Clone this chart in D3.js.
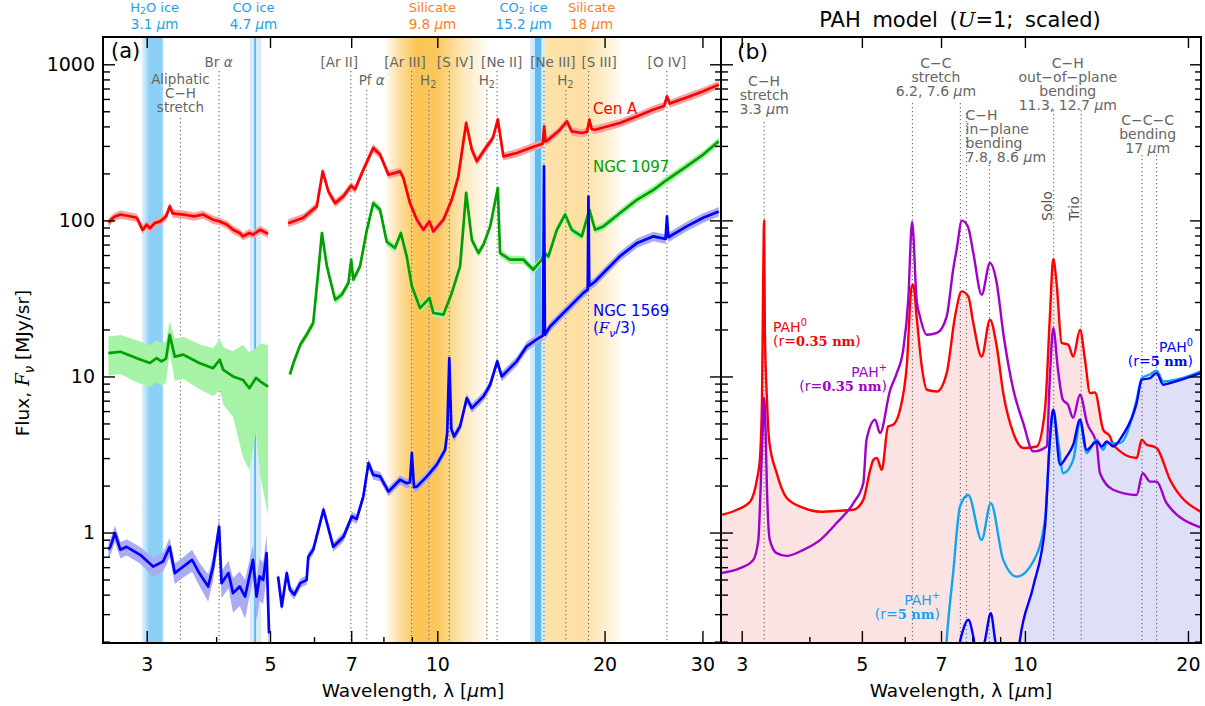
<!DOCTYPE html>
<html>
<head>
<meta charset="utf-8">
<script src="https://cdn.jsdelivr.net/npm/d3@7/dist/d3.min.js"></script>
<style>
  body { margin: 0; background: #fff; }
  svg { display: block; }
  text { font-family: "DejaVu Sans", sans-serif; }
</style>
</head>
<body>
<svg id="fig" width="1205" height="706"></svg>
<script>
// ---------------- panel (a): observed spectra ----------------
// Cen A, AKARI part and Spitzer part (MJy/sr)
const cenA1W = [2.56,2.62,2.69,2.77,2.88,2.95,3.0,3.04,3.1,3.17,3.25,3.3,3.34,3.49,3.65,3.79,3.95,4.06,4.18,4.29,4.41,4.47,4.59,4.66,4.8,4.96];
const cenA1F = [97,105,109,107,104,87,94,89,96,98.5,106,123,111,109,106,109,101,98.5,94,87,83,79,83,81,87,82];
const cenA2W = [5.39,5.74,6.07,6.22,6.37,6.55,6.78,7.0,7.11,7.36,7.67,7.89,8.17,8.57,8.69,8.93,9.19,9.44,9.68,9.84,10.26,10.62,10.91,11.27,11.54,11.78,12.28,12.59,12.85,13.15,13.9,14.69,15.32,15.48,15.57,15.66,15.85,16.52,17.11,17.46,18.2,18.6,18.78,18.95,19.23,21.3,22.9,24.5,25.6,25.9,26.2,28.5,30.1,32.1];
const cenA2F = [96,104,123,206,153,129,143,167,158,211,291,264,196,206,187,129,101,87,98.5,85,101,136,191,421,284,239,298,337,443,257,270,291,306,310,401,320,329,372,431,372,363,370,443,385,381,421,464,513,540,624,560,624,671,741];
const cenAErr = 0.06;

// NGC 1097
const n1097W1 = [2.56,2.69,2.88,3.04,3.125,3.19,3.25,3.30,3.37,3.49,3.73,3.95,4.06,4.12,4.29,4.47,4.59,4.72,4.8,4.96];
const n1097F1 = [14.1,14.4,13.1,12.2,13.1,12.5,13.0,18.5,13.4,13.8,12.2,11.3,12.8,11.0,10,9.5,8.4,9.8,9.3,8.6];
const n1097E1 = [0.28,0.28,0.3,0.3,0.3,0.3,0.3,0.22,0.3,0.3,0.32,0.34,0.36,0.4,0.45,0.68,0.7,0.55,0.75,0.85];
const n1097W2 = [5.43,5.51,5.67,5.82,5.98,6.1,6.2,6.33,6.55,6.73,6.92,7.0,7.06,7.26,7.47,7.67,7.89,8.11,8.39,8.6,8.81,9.0,9.31,9.68,9.84,10.26,10.62,10.99,11.27,11.54,11.86,12.11,12.45,12.85,12.97,13.52,14.29,14.89,15.42,15.57,15.85,16.41,16.98,17.46,18.2,18.78,19.23,19.9,21.3,22.9,24.5,25.9,28.1,30.1,32.1];
const n1097F2 = [10.3,12.2,16,18.5,22,45,83,50.7,31,33.4,39.7,56,41.7,50.7,87,129,117,73,66.5,83,58.8,37.8,27.4,31.8,25.5,24.9,34.3,50.7,150,75,61.8,69.9,91.5,161,61.8,56,56,48.3,56,61.8,58.8,87,109,87,79,117,87,91.5,111,136,157,182,222,264,321];
const n1097Err2 = 0.06;

// NGC 1569 (F_nu / 3)
const n1569W1 = [2.56,2.58,2.63,2.69,2.76,2.92,3.08,3.21,3.30,3.37,3.49,3.62,3.73,3.87,3.95,4.05,4.09,4.21,4.29,4.41,4.51,4.66,4.73,4.79,4.86,4.93,4.98];
const n1569F1 = [0.775,0.81,0.99,0.775,0.81,0.72,0.605,0.652,0.81,0.55,0.605,0.668,0.55,0.451,0.605,1.09,0.474,0.55,0.409,0.451,0.389,0.668,0.389,0.523,0.497,0.738,0.226];
const n1569E1 = [0.12,0.12,0.12,0.12,0.12,0.12,0.14,0.14,0.14,0.15,0.15,0.16,0.17,0.2,0.18,0.15,0.2,0.2,0.25,0.25,0.28,0.25,0.3,0.3,0.3,0.3,0.35];
const n1569W2 = [5.17,5.25,5.36,5.43,5.53,5.67,5.82,5.86,5.98,6.24,6.5,6.78,7.02,7.16,7.36,7.52,7.67,7.89,8.17,8.57,8.81,8.93,9.0,9.08,9.19,9.58,9.98,10.33,10.42,10.51,10.6,10.72,10.99,11.3,11.54,12.11,12.45,12.82,13.06,13.9,14.49,15.21,15.5,15.56,15.62,15.96,16.86,18.32,18.65,18.71,18.77,19.23,19.9,21.3,22.9,24.5,25.75,25.9,26.05,28.1,30.1,32.1];
const n1569F2 = [0.523,0.336,0.55,0.43,0.40,0.474,0.497,0.70,0.775,1.40,0.81,0.94,1.27,1.22,1.70,2.79,2.34,2.29,1.83,2.18,2.07,2.1,3.23,1.95,1.97,2.29,2.72,3.39,4.34,13.1,4.6,4.12,4.78,7.27,6.27,7.45,8.85,12.5,10,12.5,15.6,17.6,18.3,222,18.5,20.9,25.5,34.3,36,142,38,40.6,46,58.8,71.7,79,76,106,78,91.5,104,114];
const n1569Err2 = 0.07;

const galaxyNames = ['Cen A', 'NGC 1097', 'NGC 1569\n(~F_ν/3)'];

// absorption features (µm)
const featName = ['H_2O ice', 'CO ice', 'Silicate', 'CO_2 ice', 'Silicate'];
const featWave = [3.1, 4.7, 9.8, 15.2, 18];
const featLo = [2.94, 4.6, 8.06, 14.69, 15.6];
const featHi = [3.21, 4.82, 12.45, 15.6, 21.7];
const featLabelAt = [3.1, 4.67, 9.8, 14.3, 18.95];

// emission lines (µm)
const lineWave = [3.45, 4.05, 6.99, 7.46, 8.99, 9.66, 10.51, 12.28, 12.81, 15.56, 17.03, 18.71, 25.89];
const lineName = ['Aliphatic\nC−H\nstretch', 'Br α', '[Ar II]', 'Pf α', '[Ar III]', 'H_2', '[S IV]', 'H_2', '[Ne II]', '[Ne III]', 'H_2', '[S III]', '[O IV]'];
const lineLabelAt = [3.45, 4.04, 6.66, 7.62, 8.75, 9.63, 10.77, 12.28, 13.06, 16.14, 17.0, 19.55, 25.9];
const lineTier = [2, 0, 0, 1, 0, 1, 0, 1, 0, 0, 1, 0, 0];

// ---------------- panel (b): PAH model ----------------
const pah0sW = [2.76,2.94,3.11,3.20,3.24,3.27,3.28,3.30,3.31,3.34,3.37,3.48,3.63,3.90,4.19,4.56,4.82,5.03,5.18,5.25,5.33,5.44,5.59,5.71,5.88,6.05,6.18,6.22,6.31,6.45,6.59,6.88,7.17,7.43,7.64,7.86,8.03,8.32,8.62,8.87,9.12,9.52,9.93,10.51,10.89,11.12,11.28,11.44,11.69,12.02,12.28,12.64,12.91,13.19,13.47,13.95,14.36,14.55,16.08,16.43,16.78,17.26,17.51,18.53,21.1];
const pah0sV = [1.30,1.40,1.58,2.18,2.92,7.09,19.9,99.6,19.9,7.09,3.93,2.41,1.67,1.44,1.36,1.38,1.40,1.62,2.52,2.92,3.01,2.52,4.78,4.90,6.12,11.6,37.8,38.7,24.2,11.6,8.22,8.01,10.5,24.2,35.1,32.6,22.0,13.4,23.1,15.6,7.83,4.34,3.48,3.56,6.12,24.2,56.6,39.7,16.4,16.0,13.4,19.9,12.8,7.83,7.90,4.55,4.12,3.65,3.00,3.93,3.65,3.56,3.48,2.18,1.36];
const pahPsW = [2.74,2.98,3.15,3.22,3.25,3.28,3.30,3.32,3.34,3.38,3.48,3.63,3.90,4.19,4.49,4.82,5.03,5.10,5.29,5.40,5.64,5.80,5.96,6.09,6.19,6.31,6.40,6.59,6.88,7.17,7.37,7.48,7.65,7.85,8.03,8.32,8.62,8.87,9.12,9.52,9.93,10.36,10.97,11.12,11.28,11.51,11.75,12.01,12.27,12.64,13.02,13.57,13.76,14.55,16.08,16.50,17.02,17.51,18.27,21.1];
const pahPsV = [0.549,0.591,0.668,0.898,1.88,4.55,7.30,4.55,1.88,0.898,0.738,0.709,0.775,0.898,1.15,1.54,2.07,3.93,5.28,4.34,8.22,10.5,14.8,31.0,98.1,31.0,24.2,18.5,19.0,24.2,48.3,64.9,99.6,91.1,61.8,33.4,53.3,39.7,19.0,8.22,5.03,3.31,3.56,10,20.4,11.0,7.09,6.59,5.44,7.63,5.05,3.65,2.40,1.88,1.74,2.40,2.12,2.12,1.54,1.08];
const pahPlW = [7.0,7.17,7.37,7.59,7.86,8.32,8.65,9.12,9.66,10.36,10.89,11.12,11.28,11.51,11.77,12.28,12.64,13.0,13.57,13.95,14.16,14.98,16.08,16.43,17.02,17.51,18.0,21.1];
const pahPlV = [0.05,0.205,0.549,1.47,1.74,0.898,1.54,0.668,0.522,0.652,1.21,3.93,6.12,3.93,2.40,2.92,5.03,3.23,3.93,3.39,3.74,3.74,7.09,9.77,10.3,10.9,9.29,10.8];
const pah0lW = [7.3,7.49,7.69,7.86,8.03,8.19,8.44,8.65,8.81,9.0,9.4,9.79,10.36,10.89,11.12,11.28,11.61,11.94,12.28,12.64,13.0,13.57,13.86,14.16,14.55,15.17,16.08,16.43,17.02,17.51,18.0,18.53,21.1];
const pah0lV = [0.05,0.152,0.238,0.276,0.215,0.142,0.205,0.304,0.205,0.142,0.05,0.205,0.451,1.09,3.93,6.12,2.72,3.07,3.65,5.28,3.39,3.83,3.56,3.83,3.56,4.23,6.75,9.52,9.77,10.5,8.85,9.07,10.5];

const pahName = ['PAH^0', 'PAH^+', 'PAH^0', 'PAH^+'];
const pahSize = ['0.35 nm', '0.35 nm', '5 nm', '5 nm'];

const modeWave = [3.3, 6.2, 7.6, 7.8, 8.6, 11.3, 12.7, 16.45, 17.5];
const modeName = ['C−H\nstretch\n3.3 µm', 'C−C\nstretch\n6.2, 7.6 µm', 'C−H\nin−plane\nbending\n7.8, 8.6 µm', 'C−H\nout−of−plane\nbending\n11.3, 12.7 µm', 'C−C−C\nbending\n17 µm'];
const modeLabelAt = [3.3, 6.85, 7.77, 12.0, 16.85];
const ohName = ['Solo', 'Trio'];
const ohWave = [11.3, 12.7];

// ---------------- layout ----------------
const svg = d3.select('#fig');
const defs = svg.append('defs');
const A = {l: 103, r: 721, t: 37, b: 643};
const B = {l: 721, r: 1201, t: 37, b: 643};
const xA = d3.scaleLog().domain([2.503, 32.4]).range([A.l, A.r]);
const xB = d3.scaleLog().domain([2.747, 21.14]).range([B.l, B.r]);
const y = d3.scaleLog().domain([0.196, 1496]).range([A.b, A.t]);
const grey = '#666';

[['clipA', A], ['clipB', B]].forEach(([id, bx]) => {
  defs.append('clipPath').attr('id', id).append('rect')
    .attr('x', bx.l).attr('y', bx.t).attr('width', bx.r - bx.l).attr('height', bx.b - bx.t);
});

// text with _sub, ^sup, ~italic-serif and italic greek
function rich(sel, str, subShift) {
  const fs = parseFloat(sel.attr('font-size'));
  const sub = subShift === undefined ? 0.25 : subShift;
  let shift = 0;
  str.match(/_.|\^.|~.|[µνα]|[^_^~µνα]+/g).forEach(tok => {
    const sp = sel.append('tspan');
    let t = tok, dy;
    if (tok[0] === '_') {
      t = tok[1]; dy = fs * sub - shift; shift = fs * sub; sp.attr('font-size', fs * 0.72);
    } else if (tok[0] === '^') {
      t = tok[1]; dy = -fs * 0.42 - shift; shift = -fs * 0.42; sp.attr('font-size', fs * 0.7);
    } else {
      dy = -shift; shift = 0;
      if (tok[0] === '~') { t = tok[1]; sp.attr('font-family', 'DejaVu Serif').attr('font-style', 'italic'); }
    }
    if ('µνα'.includes(t)) sp.attr('font-style', 'italic');
    sp.attr('dy', dy).text(t);
  });
}
function label(g, x, y0, str, fs, fill, anchor, lh, subShift) {
  str.split('\n').forEach((ln, i) => {
    const t = g.append('text').attr('x', x).attr('y', y0 + i * (lh || 14))
      .attr('font-size', fs).attr('fill', fill).attr('text-anchor', anchor || 'middle');
    rich(t, ln, subShift);
  });
}

// ================= panel (a) =================
const gA = svg.append('g').attr('clip-path', 'url(#clipA)');

// absorption bands as horizontal gradients
const featStyle = [
  {c: '#86cdf5', s: [[0, 0.25], [0.2, 0.6], [0.35, 0.95], [0.88, 0.95], [1, 0.75]]},
  {c: '#d6ecfb', s: [[0, 1], [1, 1]]},
  {c: '#fbc555', s: [[0, 0.05], [0.12, 0.5], [0.3, 1], [0.5, 0.95], [0.75, 0.4], [1, 0]]},
  {c: '#5fb9f1', s: [[0, 0.25], [0.3, 0.3], [0.36, 1], [0.74, 1], [0.8, 0.3], [1, 0.25]]},
  {c: '#fbc555', s: [[0, 0.5], [0.45, 0.55], [0.75, 0.3], [1, 0]]}
];
const drawOrder = [2, 4, 0, 1, 3];
drawOrder.forEach(i => {
  const x0 = xA(featLo[i]), x1 = xA(featHi[i]);
  const gr = defs.append('linearGradient').attr('id', 'feat' + i)
    .attr('gradientUnits', 'userSpaceOnUse').attr('x1', x0).attr('x2', x1).attr('y1', 0).attr('y2', 0);
  featStyle[i].s.forEach(([o, a]) => gr.append('stop').attr('offset', o)
    .attr('stop-color', featStyle[i].c).attr('stop-opacity', a));
  gA.append('rect').attr('x', x0).attr('y', A.t).attr('width', x1 - x0).attr('height', A.b - A.t)
    .attr('fill', `url(#feat${i})`);
});
gA.append('line').attr('x1', xA(featWave[1])).attr('x2', xA(featWave[1]))
  .attr('y1', A.t).attr('y2', A.b).attr('stroke', '#3aa6ef').attr('stroke-width', 1.4);

// emission line markers
const tierBase = [67, 85, 84];
const tierTop = [71, 90, 118];
lineWave.forEach((w, i) => {
  svg.append('line').attr('x1', xA(w)).attr('x2', xA(w)).attr('y1', tierTop[lineTier[i]]).attr('y2', A.b)
    .attr('stroke', '#707070').attr('stroke-width', 1.2).attr('stroke-dasharray', '1.2,2.8');
  label(svg, xA(lineLabelAt[i]), tierBase[lineTier[i]], lineName[i], 13.5, grey, 'middle', 14);
});

function drawSpec(g, w, f, err, col, bandCol) {
  const pts = w.map((d, i) => [d, f[i], Array.isArray(err) ? err[i] : err]);
  g.append('path').attr('fill', bandCol)
    .attr('d', d3.area().x(d => xA(d[0]))
      .y0(d => y(Math.max(d[1] * (1 - d[2]), 0.01))).y1(d => y(d[1] * (1 + d[2])))(pts));
  g.append('path').attr('fill', 'none').attr('stroke', col).attr('stroke-width', 2.7)
    .attr('stroke-linejoin', 'round')
    .attr('d', d3.line().x(d => xA(d[0])).y(d => y(d[1]))(pts));
}
const gS = svg.append('g').attr('clip-path', 'url(#clipA)');
drawSpec(gS, cenA1W, cenA1F, cenAErr, '#ff0000', '#f6a3a3');
drawSpec(gS, cenA2W, cenA2F, cenAErr, '#ff0000', '#f6a3a3');
drawSpec(gS, n1097W1, n1097F1, n1097E1, '#00a000', '#a6f2a6');
drawSpec(gS, n1097W2, n1097F2, n1097Err2, '#00a000', '#a6f2a6');
drawSpec(gS, n1569W1, n1569F1, n1569E1, '#0000ff', '#ababf3');
drawSpec(gS, n1569W2, n1569F2, n1569Err2, '#0000ff', '#ababf3');

const galCol = ['#ff0000', '#00a000', '#0000ff'];
const galY = [114, 172, 316];
galaxyNames.forEach((n, i) => label(svg, 593, galY[i], n, 15, galCol[i], 'start', 17));

// feature labels above the frame
featName.forEach((n, i) => {
  const col = i === 2 || i === 4 ? '#ff7f1e' : '#1ba1ec';
  label(svg, xA(featLabelAt[i]), 12, n, 13, col, 'middle', 14, 0.16);
  label(svg, xA(featLabelAt[i]), 29, featWave[i] + ' µm', 13.5, col, 'middle');
});

// ================= panel (b) =================
const gB = svg.append('g').attr('clip-path', 'url(#clipB)');
const ptsB = (w, v) => w.map((d, i) => [d, v[i]]);
const areaB = d3.area().curve(d3.curveMonotoneX).x(d => xB(d[0])).y0(B.b).y1(d => y(d[1]));
const lineB = d3.line().curve(d3.curveMonotoneX).x(d => xB(d[0])).y(d => y(d[1]));
gB.append('path').attr('d', areaB(ptsB(pah0sW, pah0sV))).attr('fill', '#fce3e3');
gB.append('path').attr('d', areaB(ptsB(pah0lW, pah0lV))).attr('fill', '#dfdff8');

const modeTop = [122, 103, 103, 113, 165, 110, 110, 155, 155];
modeWave.forEach((w, i) => {
  gB.append('line').attr('x1', xB(w)).attr('x2', xB(w)).attr('y1', modeTop[i]).attr('y2', B.b)
    .attr('stroke', '#707070').attr('stroke-width', 1.2).attr('stroke-dasharray', '1.2,2.8');
});

[[pah0sW, pah0sV, '#ff0000'], [pahPsW, pahPsV, '#a000c8'], [pahPlW, pahPlV, '#10a4f0'], [pah0lW, pah0lV, '#0000ff']]
  .forEach(([w, v, c]) => {
    gB.append('path').attr('d', lineB(ptsB(w, v))).attr('fill', 'none').attr('stroke', c)
      .attr('stroke-width', 2.4).attr('stroke-linejoin', 'round');
  });

const modeBase = [86, 68, 120, 68, 125];
const modeAnchor = ['middle', 'middle', 'start', 'middle', 'middle'];
modeName.forEach((n, i) => label(svg, xB(modeLabelAt[i]), modeBase[i], n, 14, grey, modeAnchor[i], 14));
ohName.forEach((n, i) => {
  svg.append('text').attr('transform', `translate(${xB(ohWave[i]) - 2},221) rotate(-90)`)
    .attr('font-size', 14).attr('fill', '#555').attr('text-anchor', 'start').text(n);
});

const pahCol = ['#ff0000', '#a000c8', '#0000ff', '#10a4f0'];
const pahPos = [[773, 332, 'start'], [887, 377, 'end'], [1193, 352, 'end'], [940, 605, 'end']];
pahName.forEach((n, i) => {
  const [px, py, an] = pahPos[i];
  label(svg, px, py, n, 14, pahCol[i], an);
  const t = svg.append('text').attr('x', px).attr('y', py + 14).attr('font-size', 14)
    .attr('fill', pahCol[i]).attr('text-anchor', an);
  t.append('tspan').text('(r=');
  t.append('tspan').attr('font-family', 'DejaVu Serif').attr('font-weight', 'bold')
    .attr('font-size', 13).text(pahSize[i]);
  t.append('tspan').text(')');
});

// ================= axes =================
const minorY = [];
[0.1, 1, 10, 100].forEach(dec => [2, 3, 4, 5, 6, 7, 8, 9].forEach(m => {
  const v = dec * m; if (v > 0.196 && v < 1496) minorY.push(v);
}));

function axes(x, bx, majors, minors, ylabels) {
  const g = svg.append('g');
  const bot = g.append('g').attr('transform', `translate(0,${bx.b})`);
  bot.call(d3.axisBottom(x).tickValues(majors).tickSize(-12).tickPadding(15).tickFormat(d3.format('d')));
  bot.append('g').call(d3.axisBottom(x).tickValues(minors).tickSize(-6).tickFormat(''));
  g.append('g').attr('transform', `translate(0,${bx.t})`)
    .call(d3.axisTop(x).tickValues(majors).tickSize(-11).tickFormat(''));
  const left = g.append('g').attr('transform', `translate(${bx.l},0)`);
  left.call(d3.axisLeft(y).tickValues([1, 10, 100, 1000]).tickSize(-12).tickPadding(8)
    .tickFormat(ylabels ? d3.format('d') : ''));
  left.append('g').call(d3.axisLeft(y).tickValues(minorY).tickSize(-7).tickFormat(''));
  const right = g.append('g').attr('transform', `translate(${bx.r},0)`);
  right.call(d3.axisRight(y).tickValues([1, 10, 100, 1000]).tickSize(-11).tickFormat(''));
  right.append('g').call(d3.axisRight(y).tickValues(minorY).tickSize(-6).tickFormat(''));
  g.selectAll('.domain').remove();
  g.selectAll('.tick line').attr('stroke', '#000').attr('stroke-width', 1.4);
  g.selectAll('.tick text').attr('font-size', 19).attr('font-family', 'DejaVu Sans').attr('fill', '#000');
  svg.append('rect').attr('x', bx.l).attr('y', bx.t).attr('width', bx.r - bx.l).attr('height', bx.b - bx.t)
    .attr('fill', 'none').attr('stroke', '#000').attr('stroke-width', 2);
}
axes(xA, A, [3, 5, 7, 10, 20, 30], [4, 6, 8, 9], true);
axes(xB, B, [3, 5, 7, 10, 20], [4, 6, 8, 9], false);

// titles
label(svg, (A.l + A.r) / 2 + 1, 697, 'Wavelength, λ [µm]', 18.5, '#000');
label(svg, (B.l + B.r) / 2, 697, 'Wavelength, λ [µm]', 18.5, '#000');
const yt = svg.append('text').attr('transform', 'translate(29,363) rotate(-90)')
  .attr('font-size', 18.5).attr('text-anchor', 'middle').attr('fill', '#000');
rich(yt, 'Flux, ~F_ν [MJy/sr]');
const tt = svg.append('text').attr('x', 960).attr('y', 27).attr('font-size', 21)
  .attr('text-anchor', 'middle').attr('word-spacing', 5).attr('fill', '#000');
rich(tt, 'PAH model (~U=1; scaled)');
svg.append('text').attr('x', 111).attr('y', 58).attr('font-size', 21).text('(a)');
svg.append('text').attr('x', 737).attr('y', 59).attr('font-size', 22)
  .attr('font-family', 'DejaVu Serif').text('(b)');
</script>
</body>
</html>
